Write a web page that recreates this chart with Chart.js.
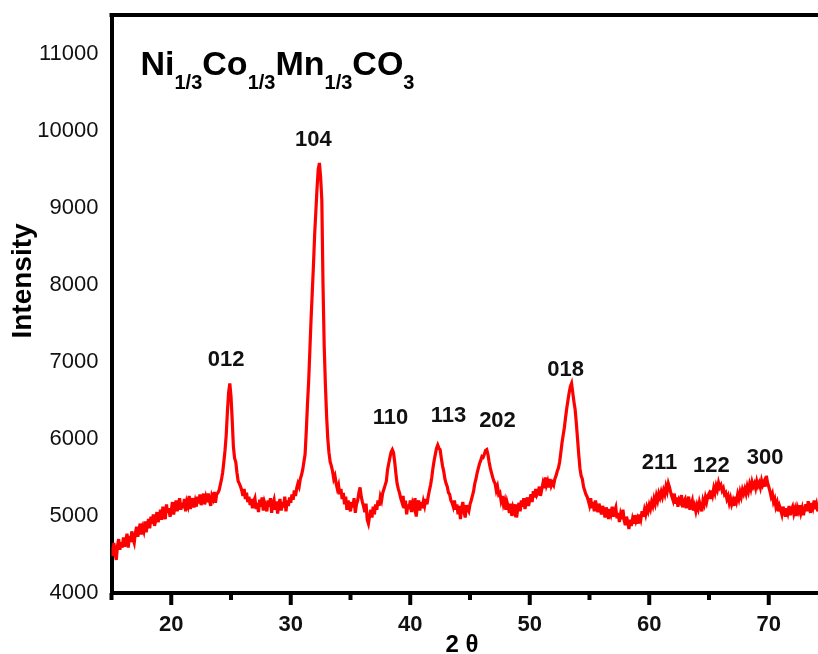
<!DOCTYPE html>
<html>
<head>
<meta charset="utf-8">
<script src="https://cdn.jsdelivr.net/npm/chart.js@4/dist/chart.umd.min.js"></script>
<style>
    html, body { margin: 0; padding: 0; background: #fff; overflow: hidden; }
    #wrap { width: 818px; height: 654px; overflow: hidden; position: relative; }
    canvas { display: block; }
</style>
</head>
<body>
<div id="wrap"><canvas id="xrd" width="850" height="680"></canvas></div>
<script>
// ===============================
// DATI
// ===============================
const START_ANGLE = 15;   // primo 2θ della scansione
const STEP = 0.1;         // passo in 2θ

// intensità, una riga per grado (x.0 ... x.9)
const intensity = [
    4600, 4480, 4650, 4520, 4430, 4610, 4700, 4560, 4660, 4590,   // 15
    4720, 4600, 4680, 4770, 4590, 4740, 4660, 4800, 4700, 4650,   // 16
    4780, 4860, 4730, 4820, 4900, 4760, 4850, 4800, 4930, 4790,   // 17
    4880, 4960, 4840, 4990, 4900, 5020, 4870, 4940, 5050, 4920,   // 18
    4990, 5080, 4950, 5120, 5010, 4960, 5150, 5040, 5100, 4990,   // 19
    5070, 5180, 5020, 5110, 5200, 5060, 5140, 5230, 5080, 5170,   // 20
    5100, 5220, 5060, 5180, 5130, 5260, 5090, 5170, 5230, 5110,   // 21
    5190, 5120, 5250, 5160, 5280, 5140, 5210, 5290, 5150, 5240,   // 22
    5180, 5290, 5200, 5130, 5260, 5220, 5310, 5170, 5280, 5300,   // 23
    5330, 5400, 5470, 5560, 5700, 5850, 6050, 6350, 6600, 6720,   // 24
    6550, 6250, 5900, 5750, 5700, 5560, 5450, 5420, 5380, 5330,   // 25
    5260, 5350, 5220, 5300, 5180, 5250, 5140, 5220, 5100, 5190,   // 26
    5230, 5090, 5170, 5050, 5210, 5120, 5240, 5070, 5180, 5130,   // 27
    5060, 5200, 5120, 5230, 5040, 5160, 5210, 5080, 5190, 5030,   // 28
    5150, 5220, 5070, 5180, 5110, 5250, 5060, 5200, 5130, 5240,   // 29
    5170, 5280, 5210, 5330, 5260, 5360, 5420, 5380, 5480, 5530,   // 30
    5600, 5700, 5800, 6100, 6450, 6750, 7150, 7550, 7900, 8250,   // 31
    8650, 8950, 9250, 9500, 9580, 9400, 9100, 8000, 7200, 6700,   // 32
    6300, 6000, 5820, 5700, 5650, 5580, 5480, 5520, 5420, 5350,   // 33
    5400, 5280, 5350, 5220, 5300, 5150, 5250, 5080, 5200, 5130,   // 34
    5060, 5180, 5110, 5230, 5040, 5150, 5200, 5300, 5370, 5250,   // 35
    5180, 5120, 5050, 5160, 4950, 4900, 5000, 5080, 4980, 5120,   // 36
    5020, 5150, 5080, 5200, 5130, 5250, 5200, 5300, 5350, 5400,   // 37
    5450, 5600, 5680, 5760, 5830, 5860, 5820, 5700, 5550, 5420,   // 38
    5350, 5300, 5230, 5180, 5260, 5100, 5200, 5020, 5150, 5090,   // 39
    5200, 5050, 5160, 5110, 5230, 4990, 5140, 5200, 5070, 5180,   // 40
    5100, 5190, 5130, 5220, 5150, 5250, 5330, 5400, 5500, 5620,   // 41
    5720, 5800, 5880, 5920, 5880, 5860, 5750, 5650, 5580, 5480,   // 42
    5420, 5380, 5300, 5280, 5200, 5170, 5120, 5200, 5080, 5150,   // 43
    5020, 5130, 4960, 5100, 5180, 5050, 4980, 5140, 5090, 5060,   // 44
    5150, 5200, 5260, 5320, 5420, 5480, 5560, 5620, 5680, 5720,   // 45
    5770, 5760, 5800, 5850, 5860, 5800, 5700, 5620, 5560, 5500,   // 46
    5450, 5420, 5330, 5380, 5280, 5300, 5200, 5260, 5150, 5200,   // 47
    5080, 5180, 5120, 5040, 5160, 5000, 5110, 5060, 5150, 4980,   // 48
    5100, 5170, 5060, 5200, 5120, 5230, 5090, 5180, 5240, 5130,   // 49
    5210, 5280, 5180, 5320, 5240, 5350, 5270, 5300, 5380, 5260,   // 50
    5340, 5420, 5360, 5500, 5400, 5450, 5370, 5480, 5390, 5430,   // 51
    5400, 5480, 5520, 5580, 5620, 5700, 5820, 5950, 6050, 6150,   // 52
    6280, 6400, 6500, 6600, 6680, 6720, 6600, 6480, 6380, 6200,   // 53
    6000, 5800, 5620, 5520, 5480, 5380, 5330, 5280, 5250, 5200,   // 54
    5140, 5230, 5100, 5180, 5060, 5200, 5120, 5050, 5160, 5090,   // 55
    5020, 5130, 5070, 4980, 5110, 5040, 4960, 5090, 5030, 5120,   // 56
    4990, 5060, 5110, 4970, 5040, 4920, 5020, 4960, 5080, 4940,   // 57
    4880, 4990, 4920, 4830, 4950, 4870, 4960, 4900, 5010, 4930,   // 58
    4970, 4900, 5020, 4960, 5060, 4990, 5080, 5020, 5110, 5060,   // 59
    5140, 5090, 5180, 5130, 5220, 5160, 5260, 5200, 5290, 5240,   // 60
    5310, 5250, 5330, 5280, 5380, 5320, 5420, 5370, 5300, 5250,   // 61
    5200, 5290, 5160, 5240, 5120, 5210, 5180, 5270, 5110, 5190,   // 62
    5220, 5100, 5170, 5250, 5080, 5150, 5200, 5070, 5130, 5060,   // 63
    5140, 5090, 5180, 5120, 5060, 5200, 5150, 5240, 5180, 5260,   // 64
    5290, 5220, 5330, 5270, 5360, 5300, 5390, 5340, 5430, 5370,   // 65
    5400, 5330, 5360, 5280, 5300, 5220, 5260, 5170, 5230, 5150,   // 66
    5200, 5130, 5250, 5190, 5280, 5220, 5310, 5250, 5340, 5290,   // 67
    5350, 5290, 5380, 5320, 5410, 5350, 5440, 5380, 5420, 5360,   // 68
    5450, 5390, 5430, 5370, 5460, 5400, 5440, 5380, 5520, 5430,   // 69
    5380, 5320, 5250, 5290, 5180, 5220, 5120, 5170, 5060, 5130,   // 70
    5080, 5020, 5120, 5050, 4990, 5100, 5040, 5130, 5010, 5080,   // 71
    5120, 5030, 5090, 5000, 5110, 5060, 5140, 5040, 5100, 5010,   // 72
    5080, 5150, 5060, 5190, 5100, 5040, 5170, 5110, 5200, 5090,   // 73
    5150, 5060, 5130, 5190, 5080, 5140, 5100                      // 74
];

// etichette dei picchi (hkl), posizione in 2θ e quota dell'etichetta
const peakNames  = ["012", "104", "110", "113", "202", "018", "211", "122", "300"];
const peakAngles = [24.6, 31.9, 38.35, 43.2, 47.3, 53.0, 60.85, 65.2, 69.7];
const peakLabelY = [7020, 9880, 6270, 6300, 6230, 6900, 5690, 5650, 5750];

const xTicks = [20, 30, 40, 50, 60, 70];
const yTicks = [4000, 5000, 6000, 7000, 8000, 9000, 10000, 11000];

const FONT = "'Liberation Sans', Arial, Helvetica, sans-serif";

const points = intensity.map((v, i) => ({
    x: +(START_ANGLE + i * STEP).toFixed(1),
    y: v
}));

// ===============================
// PLUGIN: cornice, tacche, testi
// ===============================
const decor = {
    id: "decor",
    beforeDatasetsDraw(chart) {
        chart.ctx.save();
        chart.ctx.miterLimit = 5;   // qualche spigolo nel rumore, punte dei picchi smussate
    },
    afterDatasetsDraw(chart) {
        chart.ctx.restore();
    },
    afterDraw(chart) {
        const ctx = chart.ctx;
        const a = chart.chartArea;
        const xs = chart.scales.x;
        const ys = chart.scales.y;
        ctx.save();

        // linea superiore della cornice
        ctx.fillStyle = "#000";
        ctx.fillRect(a.left - 2, a.top - 2, a.right - a.left + 4, 4);

        // tacche asse x (maggiori ogni 10, minori ogni 5)
        for (let v = 15; v <= 75; v += 5) {
            const px = xs.getPixelForValue(v);
            const len = xTicks.includes(v) ? 12 : 7;
            ctx.fillRect(px - 2, a.bottom, 4, len);
        }

        // formula
        let x = a.left + 29;
        const base = a.top + 60;
        const parts = [["Ni", 0], ["1/3", 1], ["Co", 0], ["1/3", 1], ["Mn", 0], ["1/3", 1], ["CO", 0], ["3", 1]];
        ctx.textAlign = "left";
        ctx.textBaseline = "alphabetic";
        parts.forEach(([t, sub]) => {
            ctx.font = sub ? `bold 20px ${FONT}` : `bold 34px ${FONT}`;
            ctx.fillText(t, x, sub ? base + 14 : base);
            x += ctx.measureText(t).width;
        });

        // etichette dei picchi
        ctx.font = `bold 22px ${FONT}`;
        ctx.textAlign = "center";
        ctx.textBaseline = "middle";
        ctx.fillStyle = "#111";
        peakNames.forEach((n, i) => {
            ctx.fillText(n, xs.getPixelForValue(peakAngles[i]), ys.getPixelForValue(peakLabelY[i]));
        });

        // titoli degli assi
        ctx.fillStyle = "#000";
        ctx.font = `bold 24px ${FONT}`;
        ctx.fillText("2 θ", 462, 645);

        ctx.translate(23, 281);
        ctx.rotate(-Math.PI / 2);
        ctx.font = `bold 28px ${FONT}`;
        ctx.fillText("Intensity", 0, 0);

        ctx.restore();
    }
};

// ===============================
// GRAFICO
// ===============================
new Chart(document.getElementById("xrd").getContext("2d"), {
    type: "line",
    data: {
        datasets: [{
            data: points,
            borderColor: "#ff0000",
            borderWidth: 3.2,
            borderJoinStyle: "miter",
            pointRadius: 0,
            tension: 0,
            fill: false
        }]
    },
    options: {
        responsive: false,
        animation: false,
        devicePixelRatio: 1,
        layout: { padding: { left: 0, top: 15, right: 0, bottom: 0 } },
        plugins: {
            legend: { display: false },
            tooltip: { enabled: false }
        },
        scales: {
            x: {
                type: "linear",
                min: 15,
                max: 76.8,
                afterBuildTicks: s => { s.ticks = xTicks.map(v => ({ value: v })); },
                afterFit: s => {
                    s.height = 87;
                    s.paddingLeft = 0;
                    s.paddingRight = 0;
                },
                grid: { drawOnChartArea: false, drawTicks: false },
                border: { display: true, color: "#000", width: 4 },
                ticks: {
                    autoSkip: false,
                    maxRotation: 0,
                    padding: 19,
                    color: "#111",
                    font: { family: FONT, size: 22, weight: "bold" },
                    callback: v => String(v)
                }
            },
            y: {
                type: "linear",
                min: 4000,
                max: 11500,
                afterBuildTicks: s => { s.ticks = yTicks.map(v => ({ value: v })); },
                afterFit: s => {
                    s.width = 111.5;
                    s.paddingTop = 0;
                    s.paddingBottom = 0;
                },
                grid: { drawOnChartArea: false, drawTicks: false },
                border: { display: true, color: "#000", width: 4 },
                ticks: {
                    autoSkip: false,
                    padding: 13,
                    color: "#111",
                    font: { family: FONT, size: 22 },
                    callback: v => String(v)
                }
            }
        }
    },
    plugins: [decor]
});
</script>
</body>
</html>
